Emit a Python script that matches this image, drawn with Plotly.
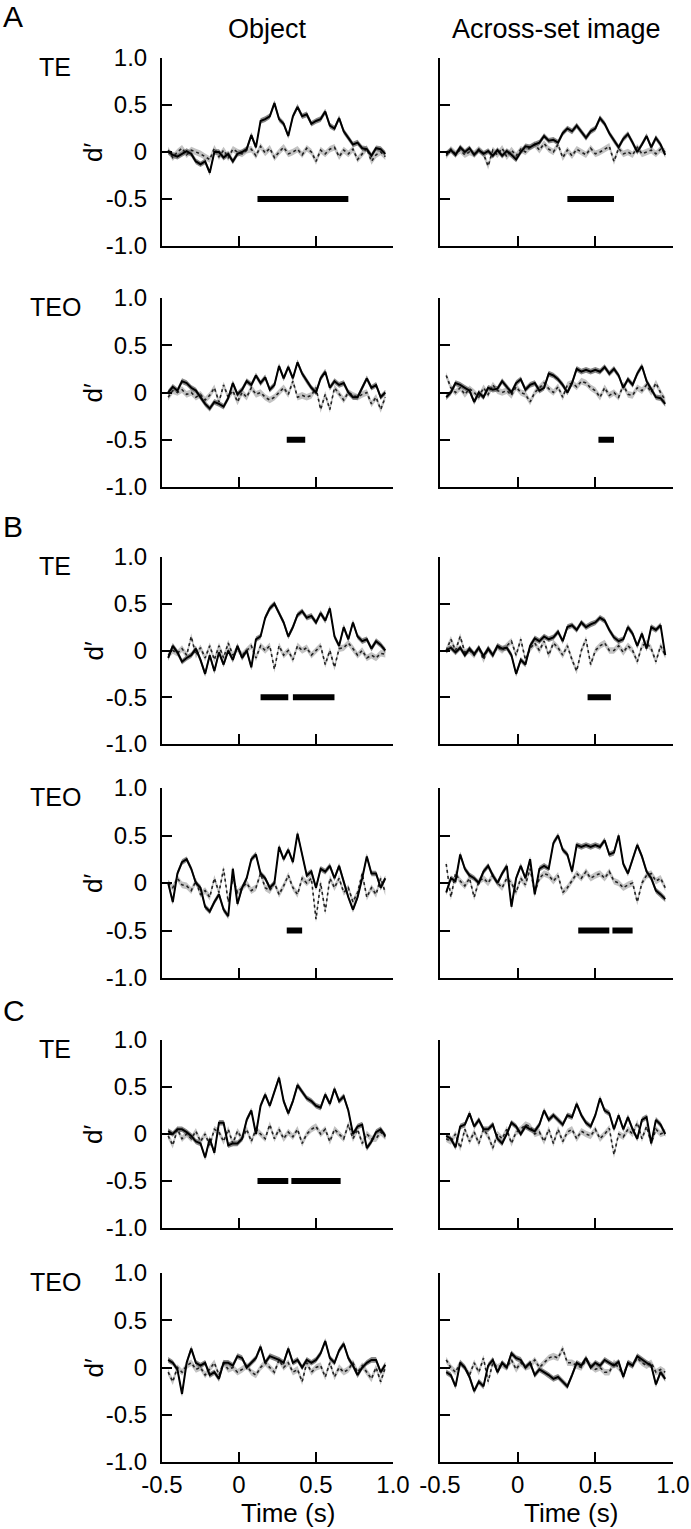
import plotly.graph_objects as go

# ---------------- data ----------------
t = [-0.46, -0.43, -0.40, -0.37, -0.34, -0.31, -0.28, -0.25, -0.22, -0.19, -0.16, -0.13,
     -0.10, -0.07, -0.04, -0.01, 0.02, 0.05, 0.08, 0.11, 0.14, 0.17, 0.20, 0.23,
     0.26, 0.29, 0.32, 0.35, 0.38, 0.41, 0.44, 0.47, 0.50, 0.53, 0.56, 0.59,
     0.62, 0.65, 0.68, 0.71, 0.74, 0.77, 0.80, 0.83, 0.86, 0.89, 0.92, 0.95]

x_ticks = [-0.5, 0, 0.5, 1.0]
x_tick_labels = ["-0.5", "0", "0.5", "1.0"]
y_ticks = [-1.0, -0.5, 0, 0.5, 1.0]
y_tick_labels = ["-1.0", "-0.5", "0", "0.5", "1.0"]

column_titles = ["Object", "Across-set image"]
row_areas = ["TE", "TEO", "TE", "TEO", "TE", "TEO"]
section_letters = ["A", "B", "C"]

solid_sem = 0.03
dotted_sem = 0.035

# A - TE
a_te_obj_solid = [0.00, -0.03, -0.05, -0.02, 0.01, -0.02, -0.10, -0.13, -0.10, -0.22, 0.00, 0.00,
                  -0.06, -0.02, -0.10, -0.02, 0.00, 0.03, 0.18, 0.05, 0.33, 0.35, 0.38, 0.52,
                  0.35, 0.30, 0.17, 0.38, 0.48, 0.38, 0.40, 0.30, 0.33, 0.35, 0.43, 0.28,
                  0.25, 0.36, 0.22, 0.15, 0.08, 0.10, 0.04, 0.03, -0.04, 0.04, 0.03, -0.02]
a_te_obj_dot = [0.02, -0.06, 0.00, 0.04, -0.03, 0.02, 0.00, -0.02, -0.05, -0.08, 0.04, -0.05,
                0.02, -0.06, 0.03, 0.00, -0.02, 0.02, 0.03, -0.04, 0.06, -0.01, 0.04, -0.06,
                0.00, 0.05, -0.02, 0.00, 0.03, -0.03, 0.04, 0.00, -0.10, 0.02, -0.02, 0.03,
                0.05, -0.05, 0.02, -0.02, 0.03, -0.08, -0.02, 0.04, -0.10, -0.03, 0.00, -0.05]
a_te_img_solid = [-0.02, 0.02, -0.03, 0.05, 0.00, 0.04, -0.03, 0.02, -0.02, 0.01, -0.04, 0.02,
                  -0.04, 0.01, -0.03, -0.08, 0.00, 0.06, 0.05, 0.08, 0.10, 0.17, 0.12, 0.13,
                  0.10, 0.20, 0.25, 0.22, 0.28, 0.22, 0.15, 0.22, 0.25, 0.36, 0.30, 0.20,
                  0.12, 0.05, 0.14, 0.19, 0.10, 0.00, 0.08, 0.17, 0.05, 0.15, 0.08, -0.03]
a_te_img_dot = [-0.04, 0.03, -0.02, 0.02, -0.03, 0.00, -0.02, 0.03, -0.02, -0.15, 0.02, -0.03,
                0.04, -0.05, 0.02, -0.04, 0.03, 0.00, 0.05, 0.08, 0.02, 0.09, 0.03, 0.00,
                0.08, -0.06, 0.02, -0.04, 0.03, 0.00, -0.03, 0.04, -0.02, 0.00, 0.03, 0.06,
                -0.10, 0.04, -0.02, 0.00, -0.03, 0.05, -0.02, 0.00, 0.02, -0.02, 0.03, 0.00]
# A - TEO
a_teo_obj_solid = [0.00, 0.06, 0.02, 0.12, 0.10, 0.05, 0.02, -0.05, -0.12, -0.17, -0.10, -0.12,
                   -0.15, -0.06, 0.10, -0.02, 0.03, 0.12, 0.08, 0.18, 0.10, 0.16, 0.03, 0.08,
                   0.28, 0.15, 0.27, 0.15, 0.32, 0.20, 0.12, 0.05, 0.00, 0.15, 0.22, 0.05,
                   0.12, 0.08, 0.10, 0.00, -0.05, -0.05, 0.05, 0.15, 0.05, 0.08, -0.05, 0.00]
a_teo_obj_dot = [-0.05, 0.02, 0.00, 0.03, -0.02, 0.00, -0.05, -0.02, -0.08, -0.03, 0.05, -0.10,
                 0.08, -0.05, 0.02, -0.10, 0.00, -0.05, 0.05, -0.02, 0.00, -0.05, -0.08, -0.05,
                 0.00, 0.05, -0.02, 0.12, -0.05, -0.03, -0.05, -0.03, 0.05, -0.18, -0.02, -0.18,
                 0.05, -0.02, -0.08, 0.00, -0.03, -0.05, -0.02, 0.00, -0.12, -0.05, -0.18, -0.05]
a_teo_img_solid = [-0.05, 0.00, 0.10, 0.08, 0.05, 0.02, -0.10, 0.00, -0.05, 0.05, 0.03, 0.04,
                   0.12, 0.06, 0.00, 0.10, 0.14, 0.03, 0.08, 0.10, 0.02, 0.05, 0.20, 0.18,
                   0.14, 0.08, 0.00, 0.10, 0.25, 0.22, 0.24, 0.22, 0.24, 0.22, 0.27, 0.20,
                   0.25, 0.18, 0.05, 0.14, 0.08, 0.20, 0.28, 0.12, 0.04, -0.05, -0.06, -0.12]
a_teo_img_dot = [0.18, 0.05, 0.00, 0.05, -0.02, 0.04, 0.00, -0.05, 0.05, -0.02, 0.08, 0.02,
                 0.00, 0.02, -0.03, 0.06, 0.00, -0.02, -0.10, 0.00, 0.05, 0.10, 0.04, 0.00,
                 0.06, -0.05, 0.08, 0.10, 0.06, 0.12, 0.10, 0.05, 0.02, -0.05, 0.05, -0.03,
                 0.00, -0.05, 0.08, -0.02, -0.03, 0.05, 0.02, 0.08, 0.00, 0.10, 0.00, -0.08]
# B - TE
b_te_obj_solid = [-0.08, 0.05, -0.02, -0.12, -0.08, -0.05, 0.02, -0.10, -0.25, -0.05, -0.22, -0.02,
                  -0.15, 0.00, -0.10, 0.05, -0.08, 0.00, -0.18, 0.12, 0.15, 0.35, 0.45, 0.50,
                  0.40, 0.30, 0.15, 0.25, 0.38, 0.42, 0.35, 0.37, 0.30, 0.40, 0.32, 0.45,
                  0.15, 0.05, 0.25, 0.12, 0.30, 0.15, 0.10, 0.12, 0.02, 0.10, 0.06, 0.00]
b_te_obj_dot = [-0.05, 0.00, -0.03, 0.02, -0.05, 0.15, -0.05, 0.03, -0.08, 0.05, -0.10, 0.05,
                -0.08, 0.08, -0.05, 0.02, -0.05, 0.00, 0.05, -0.08, 0.05, 0.00, 0.05, -0.20,
                0.05, -0.05, 0.00, -0.10, 0.05, 0.00, 0.03, -0.05, 0.00, 0.05, -0.15, 0.00,
                -0.18, 0.02, 0.03, 0.08, 0.02, -0.05, 0.00, -0.08, -0.05, -0.08, -0.03, -0.04]
b_te_img_solid = [0.00, 0.03, -0.02, 0.03, -0.05, 0.02, -0.04, 0.03, -0.06, 0.02, -0.05, 0.05,
                  0.02, 0.03, -0.05, -0.25, -0.10, -0.15, 0.05, 0.13, 0.10, 0.15, 0.12, 0.14,
                  0.20, 0.10, 0.25, 0.27, 0.22, 0.30, 0.25, 0.28, 0.30, 0.35, 0.32, 0.22,
                  0.14, 0.10, 0.12, 0.25, 0.18, 0.05, 0.18, 0.02, 0.25, 0.22, 0.27, -0.05]
b_te_img_dot = [0.00, 0.12, 0.00, 0.15, -0.02, 0.00, -0.05, 0.03, -0.10, 0.02, -0.05, 0.04,
                0.00, 0.05, 0.10, -0.05, 0.12, -0.10, 0.02, 0.08, 0.00, 0.10, -0.05, 0.08,
                0.03, -0.05, 0.05, -0.10, -0.22, 0.00, 0.12, -0.15, 0.00, 0.05, 0.08, 0.00,
                0.00, 0.05, -0.02, 0.05, 0.00, -0.12, 0.05, 0.08, 0.02, -0.12, 0.05, -0.05]
# B - TEO
b_teo_obj_solid = [0.00, -0.20, 0.10, 0.22, 0.25, 0.15, 0.00, -0.05, -0.25, -0.30, -0.20, -0.12,
                   -0.28, -0.35, 0.15, -0.22, -0.05, 0.05, 0.25, 0.30, 0.10, 0.05, -0.05, 0.00,
                   0.38, 0.25, 0.35, 0.22, 0.52, 0.30, 0.08, 0.12, -0.05, 0.15, 0.12, 0.18,
                   0.05, 0.18, 0.00, -0.15, -0.28, -0.15, 0.05, 0.28, 0.10, 0.10, -0.05, 0.05]
b_teo_obj_dot = [0.00, -0.05, 0.05, -0.02, -0.03, -0.08, 0.02, -0.12, -0.08, -0.15, 0.05, -0.10,
                 0.15, -0.20, 0.05, -0.10, -0.05, 0.00, -0.08, -0.05, 0.10, -0.05, -0.08, 0.00,
                 -0.12, -0.03, 0.08, -0.05, -0.12, 0.05, 0.00, 0.05, -0.38, 0.00, -0.30, 0.05,
                 -0.05, 0.05, -0.10, -0.05, -0.20, -0.10, 0.10, -0.15, -0.05, -0.12, 0.05, -0.10]
b_teo_img_solid = [-0.10, 0.05, 0.02, 0.30, 0.15, 0.08, 0.05, 0.00, 0.12, 0.18, 0.08, 0.00,
                   0.10, 0.18, -0.25, 0.05, 0.18, 0.05, 0.25, -0.12, 0.15, 0.18, 0.15, 0.42,
                   0.50, 0.35, 0.30, 0.12, 0.40, 0.38, 0.40, 0.38, 0.40, 0.38, 0.45, 0.30,
                   0.32, 0.50, 0.20, 0.10, 0.25, 0.40, 0.28, 0.12, 0.05, -0.08, -0.12, -0.17]
b_teo_img_dot = [0.20, -0.15, 0.10, 0.02, -0.03, 0.05, -0.15, 0.02, 0.05, 0.00, 0.08, 0.00,
                 -0.05, 0.05, 0.00, -0.10, 0.05, -0.02, 0.15, -0.10, 0.05, 0.10, 0.08, 0.02,
                 0.08, -0.10, -0.05, 0.02, 0.10, 0.05, 0.12, 0.05, 0.08, 0.10, 0.05, 0.12,
                 0.02, 0.00, -0.05, -0.02, 0.00, -0.20, 0.00, 0.08, 0.10, 0.02, 0.05, -0.05]
# C - TE
c_te_obj_solid = [0.03, 0.00, 0.05, 0.05, 0.02, -0.02, -0.08, -0.10, -0.25, -0.05, -0.20, 0.12,
                  0.12, -0.12, -0.10, -0.10, -0.05, 0.15, 0.25, 0.00, 0.30, 0.42, 0.30, 0.45,
                  0.60, 0.35, 0.22, 0.35, 0.52, 0.45, 0.38, 0.35, 0.30, 0.28, 0.42, 0.32,
                  0.48, 0.35, 0.40, 0.25, 0.00, 0.08, 0.10, -0.15, -0.08, 0.02, 0.05, -0.02]
c_te_obj_dot = [-0.02, -0.12, 0.05, -0.05, 0.00, -0.05, 0.03, -0.08, 0.00, -0.12, 0.05, 0.02,
                -0.08, 0.05, -0.10, 0.03, -0.05, 0.05, -0.08, 0.05, 0.00, -0.05, 0.10, -0.05,
                0.05, -0.05, 0.02, -0.03, 0.05, -0.10, 0.00, 0.05, 0.08, 0.00, 0.05, -0.08,
                0.05, 0.00, -0.05, 0.10, -0.05, 0.05, -0.10, 0.00, -0.05, -0.05, 0.02, -0.03]
c_te_img_solid = [-0.02, -0.05, -0.14, 0.08, 0.10, 0.22, 0.08, 0.15, 0.05, 0.05, 0.10, -0.05,
                  -0.10, 0.00, 0.12, 0.08, 0.00, 0.08, 0.05, 0.03, 0.10, 0.25, 0.15, 0.20,
                  0.15, 0.10, 0.20, 0.18, 0.32, 0.20, 0.12, 0.08, 0.20, 0.38, 0.25, 0.22,
                  0.05, 0.20, 0.05, 0.18, 0.05, -0.05, 0.15, 0.18, -0.10, 0.15, 0.10, 0.00]
c_te_img_dot = [-0.05, -0.08, 0.00, -0.15, 0.05, -0.08, 0.02, -0.10, 0.05, -0.02, -0.15, 0.00,
                -0.05, 0.05, -0.10, 0.02, 0.05, 0.10, 0.08, 0.00, 0.02, -0.08, 0.05, -0.10,
                0.05, -0.08, 0.02, 0.05, -0.05, 0.03, 0.00, -0.02, 0.05, -0.05, 0.00, 0.06,
                -0.22, 0.00, -0.03, 0.05, 0.00, 0.12, -0.05, 0.08, -0.10, 0.05, 0.00, 0.02]
# C - TEO
c_teo_obj_solid = [0.08, 0.05, -0.02, -0.28, 0.05, 0.20, 0.05, 0.02, 0.05, -0.08, -0.05, -0.12,
                   0.05, 0.05, 0.02, 0.12, 0.10, 0.00, 0.05, 0.10, 0.22, 0.05, 0.12, 0.10,
                   0.08, 0.05, 0.20, 0.05, 0.08, 0.00, 0.08, 0.05, 0.08, 0.15, 0.28, 0.10,
                   0.05, 0.18, 0.25, 0.10, 0.02, -0.08, 0.00, 0.05, 0.08, 0.08, -0.05, 0.03]
c_teo_obj_dot = [-0.05, -0.15, 0.00, -0.05, 0.02, 0.05, -0.02, 0.00, -0.08, -0.02, 0.05, -0.08,
                 0.05, -0.02, 0.00, -0.05, -0.02, 0.02, -0.05, -0.08, 0.00, 0.05, 0.00, -0.05,
                 0.08, 0.00, 0.05, -0.05, -0.02, -0.15, 0.05, -0.05, 0.00, 0.02, -0.10, 0.05,
                 -0.10, 0.00, -0.05, -0.02, 0.05, -0.05, 0.02, -0.05, -0.12, 0.00, -0.15, 0.00]
c_teo_img_solid = [-0.05, -0.08, -0.20, 0.05, 0.00, -0.10, -0.25, -0.15, -0.20, 0.02, 0.08, -0.05,
                   0.05, 0.00, 0.15, 0.10, 0.08, 0.00, 0.05, -0.08, -0.02, -0.05, -0.08, -0.12,
                   -0.10, -0.15, -0.20, -0.08, 0.05, 0.02, 0.10, 0.00, 0.05, 0.02, 0.08, 0.05,
                   0.02, 0.06, -0.10, 0.05, 0.02, 0.12, 0.08, 0.05, 0.02, -0.18, -0.05, -0.12]
c_teo_img_dot = [0.08, 0.00, -0.05, 0.05, 0.00, -0.08, 0.05, -0.05, 0.10, -0.15, 0.05, 0.00,
                 0.03, 0.00, 0.08, -0.02, 0.05, 0.00, 0.02, 0.08, 0.00, 0.05, 0.10, 0.12,
                 0.10, 0.20, 0.05, 0.05, 0.02, 0.00, 0.08, 0.02, -0.02, 0.00, -0.05, -0.05,
                 0.05, 0.00, -0.08, 0.05, 0.02, 0.10, 0.05, 0.02, 0.05, -0.05, -0.02, -0.05]

# significance bars (start, end) in seconds, drawn at d' = -0.5
a_te_obj_bars = [(0.12, 0.71)]
a_te_img_bars = [(0.32, 0.62)]
a_teo_obj_bars = [(0.31, 0.43)]
a_teo_img_bars = [(0.52, 0.62)]
b_te_obj_bars = [(0.14, 0.32), (0.35, 0.62)]
b_te_img_bars = [(0.45, 0.60)]
b_teo_obj_bars = [(0.31, 0.41)]
b_teo_img_bars = [(0.39, 0.59), (0.61, 0.74)]
c_te_obj_bars = [(0.12, 0.32), (0.34, 0.66)]
c_te_img_bars = []
c_teo_obj_bars = []
c_teo_img_bars = []
bar_level = -0.5

panels = [
    (a_te_obj_solid, a_te_obj_dot, a_te_obj_bars), (a_te_img_solid, a_te_img_dot, a_te_img_bars),
    (a_teo_obj_solid, a_teo_obj_dot, a_teo_obj_bars), (a_teo_img_solid, a_teo_img_dot, a_teo_img_bars),
    (b_te_obj_solid, b_te_obj_dot, b_te_obj_bars), (b_te_img_solid, b_te_img_dot, b_te_img_bars),
    (b_teo_obj_solid, b_teo_obj_dot, b_teo_obj_bars), (b_teo_img_solid, b_teo_img_dot, b_teo_img_bars),
    (c_te_obj_solid, c_te_obj_dot, c_te_obj_bars), (c_te_img_solid, c_te_img_dot, c_te_img_bars),
    (c_teo_obj_solid, c_teo_obj_dot, c_teo_obj_bars), (c_teo_img_solid, c_teo_img_dot, c_teo_img_bars),
]

# ---------------- layout geometry (pixels) ----------------
W, H = 691, 1529
col_px = [(162, 393), (440, 673)]
row_px = [(58, 246), (298, 487), (557, 744), (788, 978), (1040, 1228), (1273, 1462)]
FONT = "Liberation Sans, Arial, Helvetica, sans-serif"


def fx(px):
    return px / W


def fy(py):
    return 1 - py / H


fig = go.Figure()
layout = dict(
    template="none",
    width=W, height=H, margin=dict(l=0, r=0, t=0, b=0, autoexpand=False),
    paper_bgcolor="white", plot_bgcolor="white", showlegend=False,
    font=dict(family=FONT, color="black", size=24),
)
annotations = []

for k, (solid, dot, bars) in enumerate(panels):
    r, c = divmod(k, 2)
    ax = k + 1
    xa = "x" if ax == 1 else f"x{ax}"
    ya = "y" if ax == 1 else f"y{ax}"
    # bands
    for series, sem, col in ((dot, dotted_sem, "rgba(180,180,180,0.8)"),
                             (solid, solid_sem, "rgba(105,105,105,0.8)")):
        upper = [v + sem for v in series]
        lower = [v - sem for v in series]
        fig.add_trace(go.Scatter(x=t + t[::-1], y=upper + lower[::-1], fill="toself",
                                 fillcolor=col, line=dict(width=0), mode="lines",
                                 hoverinfo="skip", xaxis=xa, yaxis=ya))
    fig.add_trace(go.Scatter(x=t, y=dot, mode="lines",
                             line=dict(color="#222222", width=1.6, dash="dot"),
                             xaxis=xa, yaxis=ya))
    fig.add_trace(go.Scatter(x=t, y=solid, mode="lines",
                             line=dict(color="black", width=2),
                             xaxis=xa, yaxis=ya))
    for (s, e) in bars:
        fig.add_trace(go.Scatter(x=[s, e], y=[bar_level, bar_level], mode="lines",
                                 line=dict(color="black", width=6),
                                 xaxis=xa, yaxis=ya))

    x0, x1 = col_px[c]
    y0, y1 = row_px[r]
    bottom = (r == len(row_px) - 1)
    xkey = "xaxis" if ax == 1 else f"xaxis{ax}"
    ykey = "yaxis" if ax == 1 else f"yaxis{ax}"
    layout[xkey] = dict(
        domain=[fx(x0), fx(x1)], anchor=ya, range=[-0.5, 1.0], automargin=False,
        tickvals=x_ticks, ticktext=x_tick_labels, showticklabels=bottom,
        ticks="inside", ticklen=10, tickwidth=2, tickcolor="black",
        showline=True, linecolor="black", linewidth=2,
        showgrid=False, zeroline=False, tickfont=dict(size=24),
    )
    layout[ykey] = dict(
        domain=[fy(y1), fy(y0)], anchor=xa, range=[-1.0, 1.0], automargin=False,
        tickvals=y_ticks, ticktext=y_tick_labels, showticklabels=(c == 0),
        ticks="inside", ticklen=10, tickwidth=2, tickcolor="black",
        showline=True, linecolor="black", linewidth=2,
        showgrid=False, zeroline=False, tickfont=dict(size=24),
        ticklabelstandoff=8,
    )

# text annotations
for c, title in enumerate(column_titles):
    cx = [267, 556][c]
    annotations.append(dict(text=title, x=fx(cx), y=fy(29), xref="paper", yref="paper",
                            showarrow=False, xanchor="center", yanchor="middle",
                            font=dict(size=27)))
    annotations.append(dict(text="Time (s)", x=fx([288, 571][c]), y=fy(1513), xref="paper",
                            yref="paper", showarrow=False, xanchor="center", yanchor="middle",
                            font=dict(size=26)))
for r, area in enumerate(row_areas):
    y0, y1 = row_px[r]
    annotations.append(dict(text=area, x=fx(55), y=fy(y0 + 9), xref="paper", yref="paper",
                            showarrow=False, xanchor="center", yanchor="middle",
                            font=dict(size=25)))
    annotations.append(dict(text="d\u2032", x=fx(93), y=fy((y0 + y1) / 2), xref="paper",
                            yref="paper", showarrow=False, xanchor="center", yanchor="middle",
                            textangle=-90, font=dict(size=26)))
for letter, ly in zip(section_letters, [17, 526, 1010]):
    annotations.append(dict(text=letter, x=fx(1), y=fy(ly), xref="paper", yref="paper",
                            showarrow=False, xanchor="left", yanchor="middle",
                            font=dict(size=30)))

layout["annotations"] = annotations
fig.update_layout(**layout)
fig.write_html("out.html")
